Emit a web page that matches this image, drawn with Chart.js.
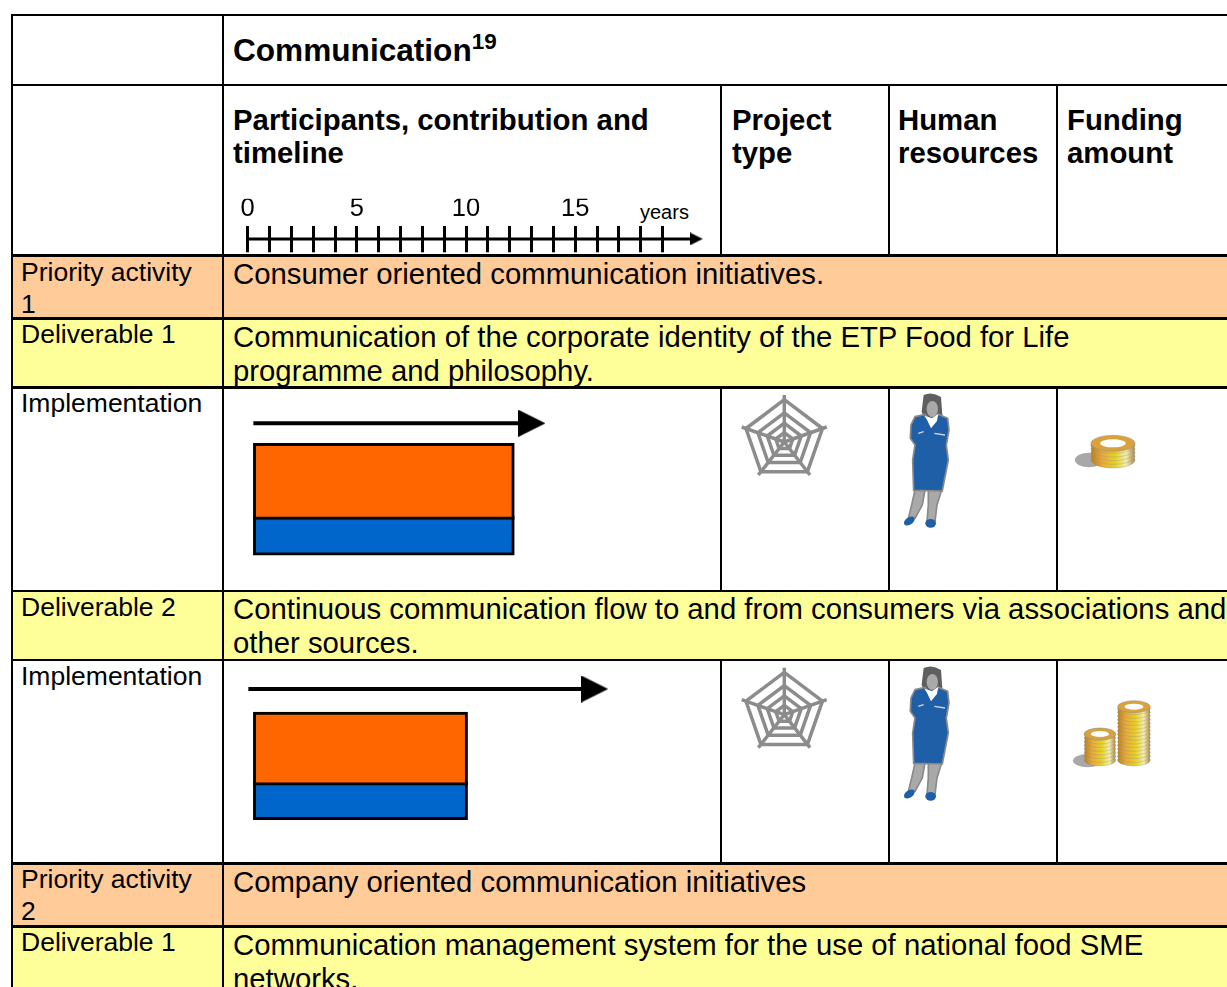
<!DOCTYPE html>
<html>
<head>
<meta charset="utf-8">
<script src="https://cdn.jsdelivr.net/npm/chart.js@4/dist/chart.umd.min.js"></script>
<style>
html, body { margin: 0; padding: 0; background: #fff; }
#page { position: relative; width: 1227px; height: 987px; overflow: hidden; font-family: "Liberation Sans", Arial, sans-serif; color: #000; }
.fill, .line, .t, canvas, svg { position: absolute; }
.line { background: #000; }
.t { white-space: nowrap; }
.body { font-size: 29.3px; line-height: 34px; }
.side { font-size: 26.5px; line-height: 31.5px; }
.head { font-size: 29.35px; line-height: 33px; font-weight: bold; }
sup { font-size: 22.5px; line-height: 0; }
</style>
</head>
<body>
<div id="page">
  <div class="fill" style="left:12px;top:256px;width:1215px;height:63px;background:#FFCC99"></div>
  <div class="fill" style="left:12px;top:319px;width:1215px;height:69px;background:#FFFF99"></div>
  <div class="fill" style="left:12px;top:592px;width:1215px;height:68px;background:#FFFF99"></div>
  <div class="fill" style="left:12px;top:864px;width:1215px;height:63px;background:#FFCC99"></div>
  <div class="fill" style="left:12px;top:927px;width:1215px;height:60px;background:#FFFF99"></div>

  <div class="t head" style="left:233px;top:34px;font-size:31.6px">Communication<sup>19</sup></div>
  <div class="t head" style="left:233px;top:103px">Participants, contribution and<br>timeline</div>
  <div class="t head" style="left:732px;top:103px">Project<br>type</div>
  <div class="t head" style="left:898px;top:103px">Human<br>resources</div>
  <div class="t head" style="left:1067px;top:103px">Funding<br>amount</div>
  <div class="t" style="left:640px;top:200px;font-size:20px;line-height:24px">years</div>

  <div class="t side" style="left:21px;top:257px">Priority activity<br>1</div>
  <div class="t body" style="left:233px;top:257px">Consumer oriented communication initiatives.</div>
  <div class="t side" style="left:21px;top:319px">Deliverable 1</div>
  <div class="t body" style="left:233px;top:320px">Communication of the corporate identity of the ETP Food for Life<br>programme and philosophy.</div>
  <div class="t side" style="left:21px;top:388px">Implementation</div>
  <div class="t side" style="left:21px;top:592px">Deliverable 2</div>
  <div class="t body" style="left:233px;top:592px">Continuous communication flow to and from consumers via associations and<br>other sources.</div>
  <div class="t side" style="left:21px;top:661px">Implementation</div>
  <div class="t side" style="left:21px;top:864px">Priority activity<br>2</div>
  <div class="t body" style="left:233px;top:865px">Company oriented communication initiatives</div>
  <div class="t side" style="left:21px;top:927px">Deliverable 1</div>
  <div class="t body" style="left:233px;top:928px">Communication management system for the use of national food SME<br>networks.</div>

  <canvas id="axisChart" width="496" height="74" style="left:224px;top:180px"></canvas>
  <canvas id="chart1" width="496" height="201" style="left:224px;top:389px"></canvas>
  <canvas id="chart2" width="496" height="200" style="left:224px;top:662px"></canvas>
  <svg id="icons" width="1227" height="987" style="left:0;top:0"></svg>
</div>

<script>
// timeline axis
const tickYears = [0, 5, 10, 15];
const lastTickYear = 19;
const axisLine = [0, 20.54];

// deliverable 1 (priority activity 1)
const d1Orange = [0.26, 12.21];
const d1Blue = [0.26, 12.21];
const d1Arrow = [0.26, 13.02];
const d1Rows = { arrow: 82.94, orange: 54.08, blue: 27.04 };

// deliverable 2 (priority activity 1)
const d2Orange = [0.26, 10.07];
const d2Blue = [0.26, 10.07];
const d2Arrow = [0.03, 15.89];
const d2Rows = { arrow: 86.5, orange: 56.67, blue: 30.65 };

// 全部のセルで同じ年スケールになるように範囲を合わせる
const xMin = -1.085;
const xMax = 21.63;

// 矢印の先
function arrowHead(w, h) {
  const c = document.createElement("canvas");
  c.width = w;
  c.height = h;
  const g = c.getContext("2d");
  g.beginPath();
  g.moveTo(0, 0);
  g.lineTo(w, h / 2);
  g.lineTo(0, h);
  g.closePath();
  g.fillStyle = "#000";
  g.fill();
  return c;
}

function arrowDataset(range, y, lineWidth, head) {
  return {
    type: "line",
    data: [{ x: range[0], y: y }, { x: range[1], y: y }],
    borderColor: "#000",
    borderWidth: lineWidth,
    pointStyle: ["circle", head],
    pointRadius: [0, 5],
    clip: false,
    order: 0
  };
}

function barDataset(range, y, color, thickness) {
  return {
    type: "bar",
    indexAxis: "y",
    data: [{ x: range, y: y }],
    backgroundColor: color,
    borderColor: "#000",
    borderWidth: 3,
    borderSkipped: false,
    barThickness: thickness,
    grouped: false
  };
}

function timelineChart(id, orange, blue, arrow, rows, orangeH, blueH) {
  new Chart(document.getElementById(id), {
    data: {
      datasets: [
        arrowDataset(arrow, rows.arrow, 4, arrowHead(27, 27)),
        barDataset(orange, rows.orange, "#FF6600", orangeH),
        barDataset(blue, rows.blue, "#0066CC", blueH)
      ]
    },
    options: {
      responsive: false,
      animation: false,
      layout: { autoPadding: false },
      plugins: { legend: { display: false }, tooltip: { enabled: false } },
      scales: {
        x: { type: "linear", min: xMin, max: xMax, display: false },
        y: { type: "linear", min: 0, max: 100, offset: false, display: false }
      }
    }
  });
}

timelineChart("chart1", d1Orange, d1Blue, d1Arrow, d1Rows, 76, 39);
timelineChart("chart2", d2Orange, d2Blue, d2Arrow, d2Rows, 73, 38);

// 年の目盛り
new Chart(document.getElementById("axisChart"), {
  data: {
    datasets: [arrowDataset(axisLine, 0, 3, arrowHead(13, 13))]
  },
  options: {
    responsive: false,
    animation: false,
    layout: { autoPadding: false, padding: { top: 18.8, bottom: 1.7 } },
    plugins: { legend: { display: false }, tooltip: { enabled: false } },
    scales: {
      x: {
        type: "linear",
        position: "top",
        min: xMin,
        max: xMax,
        border: { display: false },
        grid: {
          drawTicks: false,
          lineWidth: 3,
          color: c => (c.tick.value >= 0 && c.tick.value <= lastTickYear ? "#000" : "rgba(0,0,0,0)")
        },
        ticks: {
          stepSize: 1,
          autoSkip: false,
          maxRotation: 0,
          includeBounds: false,
          padding: 1.5,
          color: "#000",
          font: { family: "Liberation Sans", size: 25.5 },
          callback: v => (tickYears.includes(v) ? String(v) : "")
        }
      },
      y: { type: "linear", min: -1, max: 1, display: false }
    }
  }
});

// 枠線
const rowLines = [15, 85, 255.5, 318.3, 387.3, 591, 660, 863.5, 926.7];
const colLines = [11.5, 222.5];
const innerCols = [720.7, 889, 1056.7];
const page = document.getElementById("page");

function addLine(x, y, w, h) {
  const d = document.createElement("div");
  d.className = "line";
  d.style.cssText = `left:${x}px;top:${y}px;width:${w}px;height:${h}px`;
  page.appendChild(d);
}
rowLines.forEach(y => addLine(10.5, y - 1.25, 1217, 2.5));
colLines.forEach(x => addLine(x - 1, 14, 2.5, 973));
innerCols.forEach(x => {
  addLine(x - 1, 85, 2, 171);
  addLine(x - 1, 387, 2, 204);
  addLine(x - 1, 660, 2, 204);
});

// アイコン (単なる飾り)
const icons = document.getElementById("icons");
const NS = "http://www.w3.org/2000/svg";

function el(parent, name, attrs) {
  const e = document.createElementNS(NS, name);
  Object.keys(attrs).forEach(k => e.setAttribute(k, attrs[k]));
  parent.appendChild(e);
  return e;
}

const defs = el(icons, "defs", {});
const goldGrad = el(defs, "linearGradient", { id: "gold" });
[["0", "#b9801c"], ["0.25", "#e8a83a"], ["0.55", "#e6d222"], ["0.8", "#f4ecb0"], ["1", "#a9884a"]].forEach(s => {
  el(goldGrad, "stop", { offset: s[0], "stop-color": s[1] });
});

function web(dy) {
  const g = el(icons, "g", { transform: `translate(0,${dy})`, fill: "none", stroke: "#8c8c8c", "stroke-width": 3.5, "stroke-linejoin": "round" });
  const cx = 784.3, cy = 442;
  const outer = [[784.3, 395], [826.7, 427], [810, 475], [758.3, 475], [741.7, 427]];
  outer.forEach(p => el(g, "line", { x1: cx, y1: cy, x2: p[0], y2: p[1] }));
  [0.9, 0.62, 0.4, 0.2].forEach(s => {
    el(g, "polygon", { points: outer.map(p => `${cx + (p[0] - cx) * s},${cy + (p[1] - cy) * s}`).join(" ") });
  });
}

function woman(dy) {
  const g = el(icons, "g", { transform: `translate(725,${385 + dy}) scale(0.3333)` });
  el(g, "path", { d: "M570 315 L600 315 L592 360 L570 400 L550 400 L560 360 Z M610 315 L650 315 L636 360 L630 410 L606 410 L610 360 Z", fill: "#a9a9a9", stroke: "#8a8a8a", "stroke-width": 5 });
  el(g, "ellipse", { cx: 553, cy: 408, rx: 18, ry: 11, fill: "#1f5fa8", transform: "rotate(-35 553 408)" });
  el(g, "ellipse", { cx: 617, cy: 415, rx: 16, ry: 13, fill: "#1f5fa8" });
  el(g, "path", { d: "M596 30 Q622 18 648 36 L652 90 L600 105 L590 80 Z", fill: "#5f5f5f" });
  el(g, "ellipse", { cx: 622, cy: 72, rx: 17, ry: 24, fill: "#a9a9a9" });
  el(g, "path", { d: "M570 95 L600 88 L622 112 L640 88 L668 100 L672 135 L664 180 L670 225 L652 318 L566 316 L563 225 L570 180 L556 160 L558 120 Z", fill: "#1f5fa8", stroke: "#8a8a8a", "stroke-width": 5 });
  el(g, "path", { d: "M598 92 L622 100 L640 86 L636 108 L618 130 L606 104 Z", fill: "#fff" });
  el(g, "path", { d: "M628 145 L660 150 M580 145 L596 140", stroke: "#cfd8e4", "stroke-width": 4 });
}

function coinStack(g, cx, topY, bottomY, rx, ry) {
  for (let y = bottomY; y > topY; y -= 11) {
    el(g, "ellipse", { cx: cx, cy: y, rx: rx, ry: ry, fill: "url(#gold)", stroke: "#8f8f8f", "stroke-width": 1 });
  }
  el(g, "ellipse", { cx: cx, cy: topY, rx: rx, ry: ry, fill: "#d9a23c", stroke: "#8f8f8f", "stroke-width": 1.5 });
  el(g, "ellipse", { cx: cx, cy: topY, rx: rx * 0.58, ry: ry * 0.5, fill: "#fff" });
}

const coins1 = el(icons, "g", { transform: "translate(725,385) scale(0.3333)" });
el(coins1, "ellipse", { cx: 1092, cy: 225, rx: 42, ry: 22, fill: "#a8a8a8" });
coinStack(coins1, 1164, 175, 225, 66, 24);

const coins2 = el(icons, "g", { transform: "translate(725,660) scale(0.3333)" });
el(coins2, "ellipse", { cx: 1088, cy: 302, rx: 44, ry: 20, fill: "#a8a8a8" });
coinStack(coins2, 1227, 140, 300, 49, 18);
coinStack(coins2, 1125, 222, 300, 47, 18);

web(0);
web(272.7);
woman(0);
woman(273);
</script>
</body>
</html>
